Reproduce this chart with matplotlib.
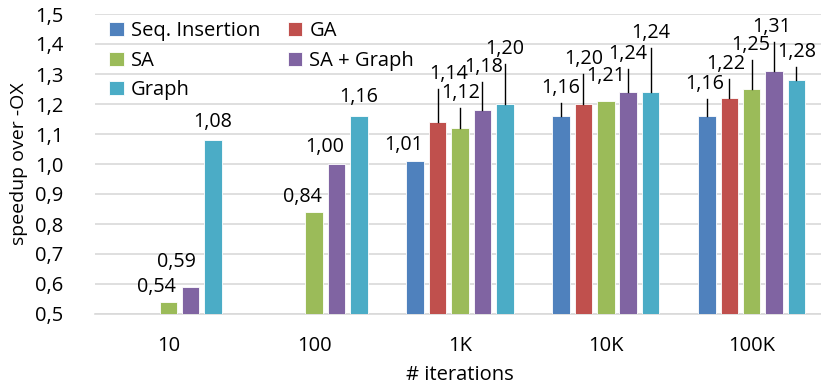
import numpy as np
import matplotlib.pyplot as plt
from matplotlib.ticker import FuncFormatter

plt.rcParams['font.family'] = ['Open Sans', 'DejaVu Sans']

categories = ["10", "100", "1K", "10K", "100K"]
series = ["Seq. Insertion", "GA", "SA", "SA + Graph", "Graph"]
seq_insertion = [np.nan, np.nan, 1.01, 1.16, 1.16]
ga = [np.nan, np.nan, 1.14, 1.20, 1.22]
sa = [0.54, 0.84, 1.12, 1.21, 1.25]
sa_graph = [0.59, 1.00, 1.18, 1.24, 1.31]
graph = [1.08, 1.16, 1.20, 1.24, 1.28]
values = [seq_insertion, ga, sa, sa_graph, graph]

colors = ["#4F81BD", "#C0504D", "#9BBB59", "#8064A2", "#4BACC6"]

# label offsets from bar top (pixels, x right / y up), as placed in the original
label_offsets = [
    [None, None, (-12, 18), (0, 30), (-2, 34)],
    [None, None, (11, 50), (0, 47), (-3, 36)],
    [(-12, 17), (-12, 17), (1, 37), (0, 27), (-1, 46)],
    [(-14, 27), (-12, 19), (1, 45), (0, 40), (-2, 46)],
    [(0, 20), (0, 21), (0, 57), (0, 61), (0, 30)],
]

FS = 14.5
LFS = 14.2
fig = plt.figure(figsize=(8.21, 3.87), dpi=100)
ax = fig.add_axes([95.4 / 821, 73 / 387, 729.2 / 821, 300 / 387])

x = np.arange(len(categories))
pitch = 0.1535
width = 0.12
handles = []
for i, (name, vals) in enumerate(zip(series, values)):
    pos = x + (i - 2) * pitch
    b = ax.bar(pos, vals, width, color=colors[i], edgecolor="white", linewidth=0.6,
               label=name, zorder=3)
    handles.append(b)

ax.set_xlim(-0.5, len(categories) - 0.5)
ax.set_ylim(0.5, 1.5)
ax.set_yticks(np.arange(0.5, 1.51, 0.1))
ax.yaxis.set_major_formatter(FuncFormatter(lambda v, p: ("%.1f" % v).replace(".", ",")))
ax.set_xticks(x)
ax.set_xticklabels(categories)
ax.tick_params(axis="both", length=0, labelsize=FS)
ax.tick_params(axis="y", pad=23)
ax.tick_params(axis="x", pad=16)
ax.grid(axis="y", color="#D9D9D9", linewidth=1.2, zorder=0)
for s in ["top", "right", "left"]:
    ax.spines[s].set_visible(False)
ax.spines["bottom"].set_color("#D9D9D9")
ax.spines["bottom"].set_linewidth(1.2)

ax.set_ylabel("speedup over -OX", fontsize=14, labelpad=5)
ax.set_xlabel("# iterations", fontsize=FS, labelpad=6)

# data labels with leader lines
ppu = ax.get_window_extent().height / 1.0
for i, vals in enumerate(values):
    for j, v in enumerate(vals):
        off = label_offsets[i][j]
        if off is None or np.isnan(v):
            continue
        bx = x[j] + (i - 2) * pitch
        dx, dy = off
        ax.annotate(("%.2f" % v).replace(".", ","), (bx, v), xytext=(dx, dy - 2),
                    textcoords="offset pixels", ha="center", va="center",
                    fontsize=LFS, zorder=5)
        gap = dy - 17
        if gap > 10:
            ax.plot([bx, bx], [v, v + gap / ppu], color="black", linewidth=1, zorder=4)

order = [0, 2, 4, 1, 3]
ax.legend([handles[k] for k in order], [series[k] for k in order], ncol=2,
          loc="upper left", bbox_to_anchor=(0.0, 1.022), frameon=False, fontsize=FS,
          handlelength=0.7, handleheight=0.7, handletextpad=0.35,
          columnspacing=1.4, labelspacing=0.47, borderaxespad=0.3)

fig.savefig("out.png", dpi=100)
